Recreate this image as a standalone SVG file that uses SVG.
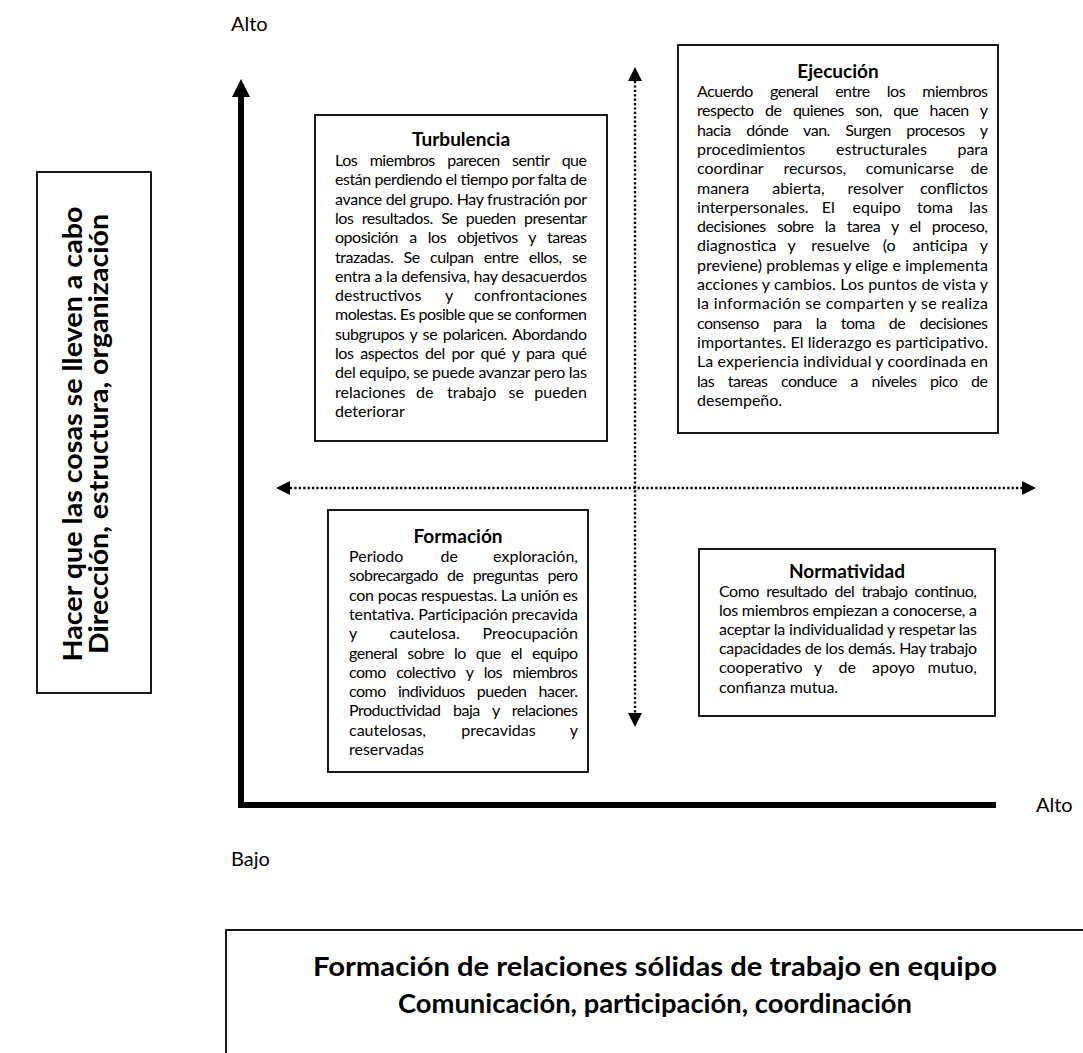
<svg xmlns="http://www.w3.org/2000/svg" width="1083" height="1053" viewBox="0 0 1083 1053">
<style>
text{font-family:Lato,"Open Sans","Liberation Sans",sans-serif;fill:#000}
.b{font-size:16px}
.t{font-size:19px;font-weight:bold;text-anchor:middle}
.e{text-anchor:end}
.lbl{font-size:20px}
.big{font-size:26px;font-weight:bold;text-anchor:middle}
.box{fill:#fff;stroke:#000;stroke-width:1.8}
.dot{fill:none;stroke:#000;stroke-width:2.4;stroke-dasharray:2.2 2.2}
</style>
<rect width="1083" height="1053" fill="#fff"/>

<g id="connectors">
<path d="M241,96 V805 H996" fill="none" stroke="#000" stroke-width="6"/>
<polygon points="232,97 250,97 241,79" fill="#000"/>
<line class="dot" x1="635" y1="81" x2="635" y2="713"/>
<polygon points="628,81 642,81 635,67" fill="#000"/>
<polygon points="628,713 642,713 635,727" fill="#000"/>
<line class="dot" x1="290" y1="488" x2="1022" y2="488"/>
<polygon points="290,481 290,495 276,488" fill="#000"/>
<polygon points="1022,481 1022,495 1036,488" fill="#000"/>
</g>

<g id="labels">
<text class="lbl" x="231" y="31">Alto</text>
<text class="lbl" x="1036" y="812">Alto</text>
<text class="lbl" x="231" y="866">Bajo</text>
</g>

<g id="y-axis-label">
<rect class="box" x="37" y="172" width="114" height="521"/>
<text class="big" transform="translate(82,434) rotate(-90)" textLength="455" lengthAdjust="spacingAndGlyphs">Hacer que las cosas se lleven a cabo</text>
<text class="big" transform="translate(108,434) rotate(-90)" textLength="440" lengthAdjust="spacingAndGlyphs">Dirección, estructura, organización</text>
</g>

<g id="turbulencia">
<rect class="box" x="315" y="115" width="292" height="326"/>
<text class="t" x="461" y="146">Turbulencia</text>
<g class="b">
<text x="335" y="166" textLength="252" lengthAdjust="spacing" style="word-spacing:8.9px">Los miembros parecen sentir que</text>
<text x="335" y="185.3" textLength="252" lengthAdjust="spacing">están perdiendo el tiempo por falta de</text>
<text x="335" y="204.6" textLength="252" lengthAdjust="spacing">avance del grupo. Hay frustración por</text>
<text x="335" y="223.9" textLength="252" lengthAdjust="spacing" style="word-spacing:4.8px">los resultados. Se pueden presentar</text>
<text x="335" y="243.2" textLength="252" lengthAdjust="spacing" style="word-spacing:7.6px">oposición a los objetivos y tareas</text>
<text x="335" y="262.5" textLength="252" lengthAdjust="spacing" style="word-spacing:6.6px">trazadas. Se culpan entre ellos, se</text>
<text x="335" y="281.8" textLength="252" lengthAdjust="spacing">entra a la defensiva, hay desacuerdos</text>
<text x="335" y="301.1">destructivos</text><text x="445" y="301.1">y</text><text class="e" x="587" y="301.1">confrontaciones</text>
<text x="335" y="320.4" textLength="252" lengthAdjust="spacing">molestas. Es posible que se conformen</text>
<text x="335" y="339.7" textLength="252" lengthAdjust="spacing" style="word-spacing:2px">subgrupos y se polaricen. Abordando</text>
<text x="335" y="359" textLength="252" lengthAdjust="spacing" style="word-spacing:3.2px">los aspectos del por qué y para qué</text>
<text x="335" y="378.3" textLength="252" lengthAdjust="spacing">del equipo, se puede avanzar pero las</text>
<text x="335" y="397.6">relaciones</text><text x="416" y="397.6">de</text><text x="447" y="397.6">trabajo</text><text x="508.5" y="397.6">se</text><text class="e" x="587" y="397.6">pueden</text>
<text x="335" y="416.9">deteriorar</text>
</g>
</g>

<g id="ejecucion">
<rect class="box" x="678" y="45" width="320" height="388"/>
<text class="t" x="838" y="78">Ejecución</text>
<g class="b">
<text x="697" y="97" textLength="291" lengthAdjust="spacing" style="word-spacing:13.4px">Acuerdo general entre los miembros</text>
<text x="697" y="116.3" textLength="291" lengthAdjust="spacing" style="word-spacing:7.8px">respecto de quienes son, que hacen y</text>
<text x="697" y="135.6" textLength="291" lengthAdjust="spacing" style="word-spacing:11.8px">hacia dónde van. Surgen procesos y</text>
<text x="697" y="154.9">procedimientos</text><text x="836" y="154.9">estructurales</text><text class="e" x="988" y="154.9">para</text>
<text x="697" y="174.2">coordinar</text><text x="783.4" y="174.2">recursos,</text><text x="865.8" y="174.2">comunicarse</text><text class="e" x="988" y="174.2">de</text>
<text x="697" y="193.5">manera</text><text x="772.2" y="193.5">abierta,</text><text x="847.6" y="193.5">resolver</text><text class="e" x="988" y="193.5">conflictos</text>
<text x="697" y="212.8">interpersonales.</text><text x="821.8" y="212.8">El</text><text x="852.5" y="212.8">equipo</text><text x="917" y="212.8">toma</text><text class="e" x="988" y="212.8">las</text>
<text x="697" y="232.1" textLength="291" lengthAdjust="spacing" style="word-spacing:7.4px">decisiones sobre la tarea y el proceso,</text>
<text x="697" y="251.4">diagnostica</text><text x="787.6" y="251.4">y</text><text x="811.3" y="251.4">resuelve</text><text x="882.8" y="251.4">(o</text><text x="912.6" y="251.4">anticipa</text><text class="e" x="988" y="251.4">y</text>
<text x="697" y="270.7" textLength="291" lengthAdjust="spacing">previene) problemas y elige e implementa</text>
<text x="697" y="290" textLength="291" lengthAdjust="spacing">acciones y cambios. Los puntos de vista y</text>
<text x="697" y="309.3" textLength="291" lengthAdjust="spacing">la información se comparten y se realiza</text>
<text x="697" y="328.6" textLength="291" lengthAdjust="spacing" style="word-spacing:10.6px">consenso para la toma de decisiones</text>
<text x="697" y="347.9" textLength="291" lengthAdjust="spacing">importantes. El liderazgo es participativo.</text>
<text x="697" y="367.2" textLength="291" lengthAdjust="spacing">La experiencia individual y coordinada en</text>
<text x="697" y="386.5" textLength="291" lengthAdjust="spacing" style="word-spacing:9.9px">las tareas conduce a niveles pico de</text>
<text x="697" y="405.8">desempeño.</text>
</g>
</g>

<g id="formacion">
<rect class="box" x="328" y="510" width="260" height="262"/>
<text class="t" x="458" y="543">Formación</text>
<g class="b">
<text x="349" y="562">Periodo</text><text x="440.6" y="562">de</text><text class="e" x="578" y="562">exploración,</text>
<text x="349" y="581.3" textLength="229" lengthAdjust="spacing" style="word-spacing:5.7px">sobrecargado de preguntas pero</text>
<text x="349" y="600.6" textLength="229" lengthAdjust="spacing">con pocas respuestas. La unión es</text>
<text x="349" y="619.9" textLength="229" lengthAdjust="spacing">tentativa. Participación precavida</text>
<text x="349" y="639.2">y</text><text x="389.6" y="639.2">cautelosa.</text><text class="e" x="578" y="639.2">Preocupación</text>
<text x="349" y="658.5" textLength="229" lengthAdjust="spacing" style="word-spacing:6.3px">general sobre lo que el equipo</text>
<text x="349" y="677.8" textLength="229" lengthAdjust="spacing" style="word-spacing:7.1px">como colectivo y los miembros</text>
<text x="349" y="697.1" textLength="229" lengthAdjust="spacing" style="word-spacing:8.4px">como individuos pueden hacer.</text>
<text x="349" y="716.4" textLength="229" lengthAdjust="spacing" style="word-spacing:8.9px">Productividad baja y relaciones</text>
<text x="349" y="735.7">cautelosas,</text><text x="461.3" y="735.7">precavidas</text><text class="e" x="578" y="735.7">y</text>
<text x="349" y="755">reservadas</text>
</g>
</g>

<g id="normatividad">
<rect class="box" x="699" y="549" width="296" height="167"/>
<text class="t" x="847" y="578">Normatividad</text>
<g class="b">
<text x="719" y="597" textLength="258" lengthAdjust="spacing" style="word-spacing:3.7px">Como resultado del trabajo continuo,</text>
<text x="719" y="616.1" textLength="258" lengthAdjust="spacing">los miembros empiezan a conocerse, a</text>
<text x="719" y="635.2" textLength="258" lengthAdjust="spacing">aceptar la individualidad y respetar las</text>
<text x="719" y="654.3" textLength="258" lengthAdjust="spacing">capacidades de los demás. Hay trabajo</text>
<text x="719" y="673.4">cooperativo</text><text x="814.1" y="673.4">y</text><text x="838.5" y="673.4">de</text><text x="872.1" y="673.4">apoyo</text><text class="e" x="977" y="673.4">mutuo,</text>
<text x="719" y="692.5">confianza mutua.</text>
</g>
</g>

<g id="x-axis-label">
<rect class="box" x="226" y="930" width="900" height="160"/>
<text class="big" x="655" y="976" textLength="684" lengthAdjust="spacingAndGlyphs">Formación de relaciones sólidas de trabajo en equipo</text>
<text class="big" x="655" y="1013" textLength="514" lengthAdjust="spacingAndGlyphs">Comunicación, participación, coordinación</text>
</g>
</svg>
